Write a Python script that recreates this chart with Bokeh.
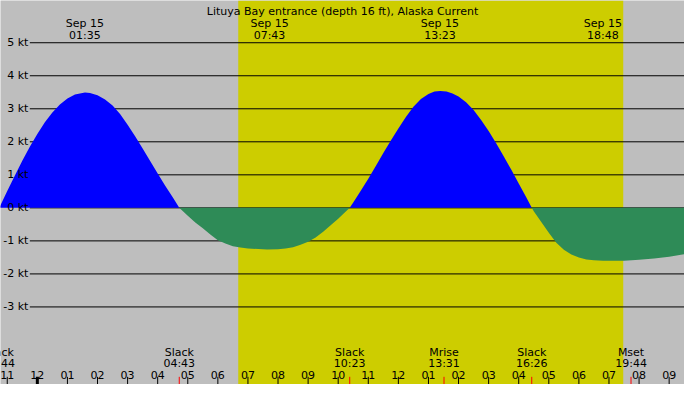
import numpy as np

from bokeh.plotting import figure
from bokeh.models import ColumnDataSource, Range1d
from bokeh.core.properties import value
from bokeh.embed import file_html
from bokeh.resources import INLINE

# current speed (kt) against hours after midnight, Sep 15
hours = [-1.267, -1.0, -0.75, -0.5, -0.25, 0.0, 0.25, 0.5, 0.75, 1.0, 1.25, 1.583, 1.75,
         2.0, 2.25, 2.5, 2.75, 3.0, 3.25, 3.5, 3.75, 4.0, 4.25, 4.5, 4.717,
         5.0, 5.25, 5.5, 5.75, 6.0, 6.25, 6.5, 6.75, 7.0, 7.64, 8.0, 8.25, 8.5, 8.75,
         9.0, 9.25, 9.5, 9.75, 10.0, 10.383,
         10.5, 10.75, 11.0, 11.25, 11.5, 11.75, 12.0, 12.25, 12.5, 12.75, 13.0, 13.2,
         13.39, 13.6, 13.8, 14.0, 14.25, 14.5, 14.75, 15.0, 15.25, 15.5, 15.75, 16.0,
         16.25, 16.433,
         16.5, 16.75, 17.0, 17.25, 17.5, 17.75, 18.0, 18.25, 18.5, 18.8, 19.0, 19.5,
         20.0, 20.5, 21.0, 21.5, 21.7]
speed = [0.0, 0.51, 0.97, 1.43, 1.85, 2.24, 2.59, 2.89, 3.13, 3.31, 3.43, 3.49, 3.48,
         3.41, 3.28, 3.10, 2.84, 2.52, 2.17, 1.80, 1.42, 1.04, 0.67, 0.32, 0.0,
         -0.24, -0.44, -0.62, -0.81, -0.98, -1.08, -1.16, -1.20, -1.23, -1.26, -1.25, -1.23,
         -1.19, -1.12, -1.03, -0.90, -0.72, -0.53, -0.33, 0.0,
         0.16, 0.52, 0.88, 1.27, 1.66, 2.04, 2.40, 2.75, 3.06, 3.30, 3.45, 3.52,
         3.54, 3.52, 3.46, 3.37, 3.20, 2.96, 2.66, 2.33, 1.96, 1.56, 1.16, 0.74,
         0.32, 0.0,
         -0.10, -0.43, -0.75, -1.06, -1.27, -1.41, -1.50, -1.56, -1.59, -1.60, -1.60, -1.60,
         -1.57, -1.53, -1.48, -1.40, -1.37]

# max flood / ebb times
max_hours = [1.583, 7.717, 13.383, 18.8]
max_dates = ["Sep 15", "Sep 15", "Sep 15", "Sep 15"]
max_times = ["01:35", "07:43", "13:23", "18:48"]

# slack water and moon events
event_hours = [-1.267, 4.717, 10.383, 13.517, 16.433, 19.733]
event_names = ["Slack", "Slack", "Slack", "Mrise", "Slack", "Mset"]
event_times = ["22:44", "04:43", "10:23", "13:31", "16:26", "19:44"]

# daylight (sunrise, sunset)
sunrise, sunset = 6.678, 19.474

hour_ticks = list(range(-1, 22))
hour_labels = ["11", "12", "01", "02", "03", "04", "05", "06", "07", "08", "09", "10",
               "11", "12", "01", "02", "03", "04", "05", "06", "07", "08", "09"]

kt_levels = [5, 4, 3, 2, 1, 0, -1, -2, -3]
kt_labels = ["5 kt", "4 kt", "3 kt", "2 kt", "1 kt", "0 kt", "-1 kt", "-2 kt", "-3 kt"]

TITLE = "Lituya Bay entrance (depth 16 ft), Alaska Current"

# layout of the original 700x400 picture
X_MID, PX_HOUR = 37.7, 30.79
Y_ZERO, PX_KT = 216.0, 34.4

def hx(px):
    return (px - X_MID) / PX_HOUR

def ky(py):
    return (Y_ZERO - py) / PX_KT

x0, x1 = hx(0), hx(700)
y0, y1 = ky(400), ky(0)

GRAY = "#bebebe"
YELLOW = "#cdcd00"
FONT = "DejaVu Sans"
FSIZE = "11px"

p = figure(width=684, height=384, x_range=Range1d(x0, x1), y_range=Range1d(y0, y1),
           output_backend="svg", toolbar_location=None, min_border=0,
           x_axis_location=None, y_axis_location=None,
           background_fill_color=GRAY, border_fill_color=GRAY, outline_line_color=None)
p.grid.visible = False

# daylight band
p.quad(left=[sunrise], right=[sunset], bottom=[y0], top=[y1],
       fill_color=YELLOW, line_color=None)

# horizontal lines
p.segment(x0=[hx(30)] * len(kt_levels), x1=[x1] * len(kt_levels),
          y0=kt_levels, y1=kt_levels, line_color="black", line_width=1)

# flood and ebb
spd = np.array(speed)
src = ColumnDataSource(dict(x=hours, zero=np.zeros(len(spd)),
                            pos=np.maximum(spd, 0), neg=np.minimum(spd, 0)))
p.varea(x="x", y1="zero", y2="pos", source=src, fill_color="#0000ff")
p.varea(x="x", y1="neg", y2="zero", source=src, fill_color="#2e8b57")

# hour ticks
widths = [3 if h == 0 else 1 for h in hour_ticks]
p.segment(x0=hour_ticks, x1=hour_ticks, y0=[ky(400)] * len(hour_ticks),
          y1=[ky(392)] * len(hour_ticks), line_color="black", line_width=widths)
p.segment(x0=event_hours, x1=event_hours, y0=[ky(400)] * len(event_hours),
          y1=[ky(392)] * len(event_hours), line_color="red", line_width=1)

txt = dict(text_font=value(FONT), text_font_size=value(FSIZE), text_color="black",
           text_align="center", text_baseline="alphabetic")

p.text(x=[hx(350)], y=[ky(11.7)], text=[TITLE], **txt)
p.text(x=max_hours, y=[ky(24)] * 4, text=max_dates, **txt)
p.text(x=max_hours, y=[ky(36)] * 4, text=max_times, **txt)
p.text(x=event_hours, y=[ky(366.7)] * len(event_hours), text=event_names, **txt)
p.text(x=event_hours, y=[ky(377.7)] * len(event_hours), text=event_times, **txt)
p.text(x=hour_ticks, y=[ky(390)] * len(hour_ticks), text=hour_labels, **txt)

ytxt = dict(txt, text_align="right", text_baseline="middle")
p.text(x=[hx(28.5)] * len(kt_levels), y=kt_levels, text=kt_labels, **ytxt)

open("out.html", "w").write(file_html(p, INLINE))
